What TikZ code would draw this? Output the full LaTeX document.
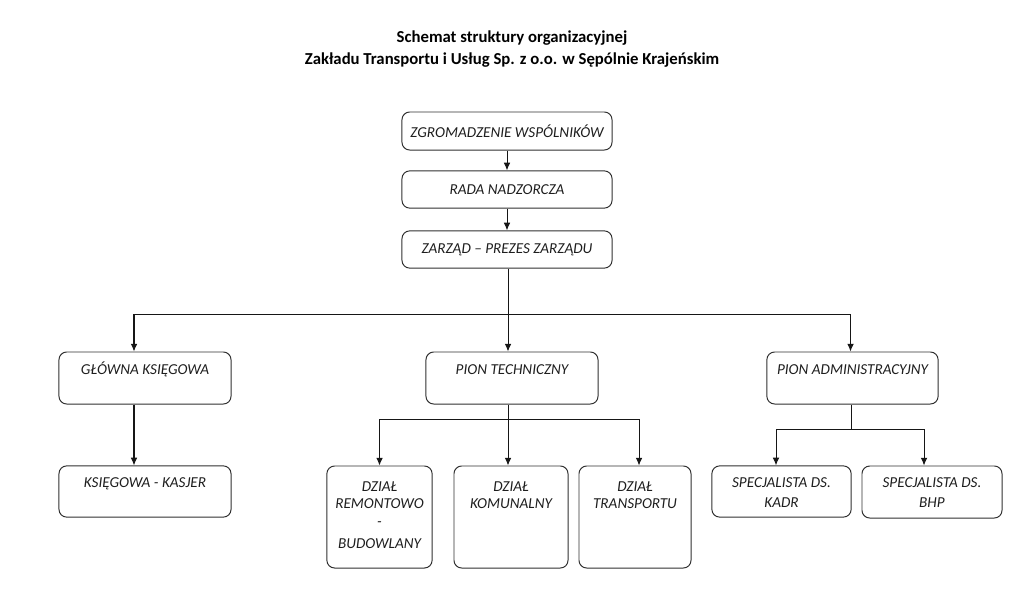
\documentclass[tikz,border=0pt]{standalone}
\usepackage{fontspec}
\setmainfont{Carlito}
\usepackage{tikz}
\usetikzlibrary{arrows.meta, positioning, calc}
\definecolor{inkframe}{HTML}{303030}
\definecolor{inkline}{HTML}{161616}
\definecolor{inktext}{HTML}{1E1E1E}

\begin{document}
\begin{tikzpicture}[
  x=0.025cm, y=-0.025cm,
  unit/.style={draw=inkframe, line width=0.7pt, rounded corners=5.5pt, font=\fontsize{10.8}{12.4}\selectfont\itshape, text=inktext, align=center},
  unittext/.style={font=\fontsize{10.8}{12.4}\selectfont\itshape, text=inktext, align=center, anchor=north, inner sep=0pt},
  wire/.style={inkline, line width=0.6pt},
  feed/.style={wire, line width=0.72pt, -{Latex[length=5.5pt,width=4.8pt]}},
  heading/.style={font=\fontsize{11.9}{15}\selectfont\bfseries, align=center}
]
\useasboundingbox (0,0) rectangle (1024,599);

% ---- heading ----
\node[heading] (head) at (512,49) {Schemat struktury organizacyjnej\\Zakładu Transportu i Usług Sp. z o.o. w Sępólnie Krajeńskim};

% ---- top chain ----
\node[unit, minimum width=5.25cm, minimum height=0.95cm] (zw) at (507,131) {ZGROMADZENIE WSPÓLNIKÓW};
\node[unit, minimum width=5.25cm, minimum height=0.93cm] (rada) at (507,189.5) {RADA NADZORCZA};
\node[unit, minimum width=5.25cm, minimum height=0.93cm] (zarzad) at (507,249.5) {ZARZĄD -- PREZES ZARZĄDU};
\draw[feed] (zw) -- (rada);
\draw[feed] (rada) -- (zarzad);

% ---- divisions ----
\node[unit, minimum width=4.3cm, minimum height=1.3cm, label={[unittext, text height=7pt, yshift=-9pt]north:GŁÓWNA KSIĘGOWA}] (gk) at (145,378) {};
\node[unit, minimum width=4.3cm, minimum height=1.3cm, label={[unittext, yshift=-9pt]north:PION TECHNICZNY}] (pt) at (512,378) {};
\node[unit, minimum width=4.28cm, minimum height=1.3cm, label={[unittext, yshift=-9pt]north:PION ADMINISTRACYJNY}] (pa) at (852.5,378) {};

% board fans out to all three -- horizontal bus under the board
\coordinate (busTop) at (508,314);
\draw[wire] (zarzad.south -| busTop) -- (busTop);
\draw[feed] (busTop) -| ($(gk.north)+(-11,0)$);
\draw[feed] (busTop) -| ($(pa.north)+(-2,0)$);
\draw[feed] (busTop) -- (busTop |- pt.north);

% ---- accounting ----
\node[unit, minimum width=4.3cm, minimum height=1.28cm, label={[unittext, yshift=-8.3pt]north:KSIĘGOWA - KASJER}] (kasjer) at (145,491.5) {};
\draw[feed] ($(gk.south)+(-11,0)$) -- ($(kasjer.north)+(-11,0)$);

% ---- technical departments ----
\node[unit, minimum width=2.63cm, minimum height=2.55cm, label={[unittext, yshift=-11.4pt]north:{DZIAŁ\\REMONTOWO\\-\\[3.5pt]BUDOWLANY}}] (rem) at (379.5,517) {};
\node[unit, minimum width=2.85cm, minimum height=2.55cm, label={[unittext, yshift=-11.4pt]north:{DZIAŁ\\KOMUNALNY}}] (kom) at (511,517) {};
\node[unit, minimum width=2.8cm, minimum height=2.55cm, label={[unittext, yshift=-11.4pt]north:{DZIAŁ\\TRANSPORTU}}] (tra) at (635,517) {};

\coordinate (techBus) at (508,419);
\draw[wire] (pt.south -| techBus) -- (techBus);
\foreach \d/\dx in {rem/0, kom/-3, tra/4} {
  \draw[feed] (techBus) -| ($(\d.north)+(\dx,0)$);
}

% ---- administration ----
\node[unit, minimum width=3.48cm, minimum height=1.28cm, label={[unittext, yshift=-8.3pt]north:{SPECJALISTA DS.\\[2pt]KADR}}] (kadr) at (781.5,491.5) {};
\node[unit, minimum width=3.5cm, minimum height=1.3cm, label={[unittext, yshift=-8.3pt]north:{SPECJALISTA DS.\\[2pt]BHP}}] (bhp) at (932,492) {};

\coordinate (admBus) at (851,429);
\draw[wire] (pa.south -| admBus) -- (admBus);
\draw[feed] (admBus) -| ($(kadr.north)+(-5.5,0)$);
\draw[feed] (admBus) -| ($(bhp.north)+(-8,0)$);
\end{tikzpicture}
\end{document}
